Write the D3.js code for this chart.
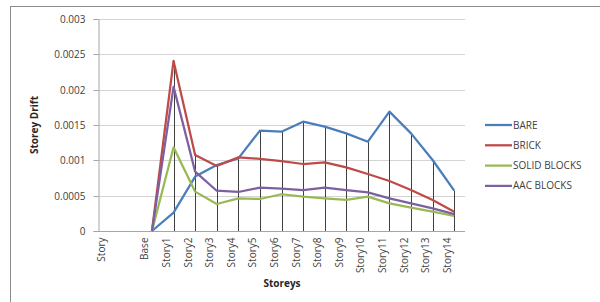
<!DOCTYPE html>
<html><head><meta charset="utf-8">
<script src="https://cdn.jsdelivr.net/npm/d3@7"></script>
<style>body{margin:0;background:#fff}svg{display:block}text{font-family:"Open Sans","Noto Sans",sans-serif}</style>
</head><body><svg id="c" width="600" height="302"></svg>
<script>
const categories = ["Story","","Base","Story1","Story2","Story3","Story4","Story5","Story6","Story7","Story8","Story9","Story10","Story11","Story12","Story13","Story14"];
const bare   = [null,null,0,0.000259,0.00077,0.000934,0.001028,0.00142,0.001405,0.001547,0.001476,0.001382,0.001264,0.001689,0.001382,0.001005,0.00057];
const brick  = [null,null,0,0.002406,0.001075,0.00092,0.001042,0.00102,0.00099,0.000948,0.000972,0.000901,0.000807,0.000708,0.00058,0.000439,0.000273];
const solid  = [null,null,0,0.001184,0.000557,0.000382,0.000462,0.000453,0.00052,0.000486,0.000462,0.000439,0.000486,0.00039,0.00033,0.000273,0.000212];
const aac    = [null,null,0,0.00204,0.00084,0.00057,0.000552,0.000613,0.000599,0.00058,0.000613,0.00058,0.000547,0.000462,0.00039,0.000321,0.00024];
const yTicks = [0,0.0005,0.001,0.0015,0.002,0.0025,0.003];
const yTickLabels = ["0","0.0005","0.001","0.0015","0.002","0.0025","0.003"];
const seriesNames = ["BARE","BRICK","SOLID BLOCKS","AAC BLOCKS"];
const seriesColors = ["#4a7ebb","#be4b48","#98b954","#7d60a0"];
const seriesData = [bare,brick,solid,aac];

const svg = d3.select("#c");
// outer chart border
svg.append("rect").attr("x",10.5).attr("y",6.5).attr("width",620).attr("height",320)
  .attr("fill","none").attr("stroke","#8c8c8c").attr("stroke-width",1);

const L=98, R=465, T=19, B=231;
const x = d3.scaleBand().domain(d3.range(categories.length)).range([L,R]);
const xc = i => x(i)+x.bandwidth()/2;
const y = d3.scaleLinear().domain([0,0.003]).range([B,T]);

// gridlines
svg.append("g").selectAll("line").data(yTicks.slice(1)).join("line")
  .attr("x1",L).attr("x2",R).attr("y1",d=>Math.round(y(d))+0.5).attr("y2",d=>Math.round(y(d))+0.5)
  .attr("stroke","#d4d4d4").attr("stroke-width",1);

// y axis
const yAxis = d3.axisLeft(y).tickValues(yTicks).tickFormat((d,i)=>yTickLabels[i]).tickSize(5).tickPadding(8);
const gy = svg.append("g").attr("transform",`translate(${L+0.5},0)`).call(yAxis);
gy.select(".domain").attr("stroke","#a6a6a6");
gy.selectAll(".tick line").attr("stroke","#a6a6a6");
gy.selectAll(".tick text").attr("font-size",10).attr("fill","#404040");
gy.selectAll(".tick").attr("transform",d=>`translate(0,${Math.round(y(d))+0.5})`);

// x axis
const xAxis = d3.axisBottom(x).tickFormat(i=>categories[i]).tickSize(0).tickPadding(6);
const gx = svg.append("g").attr("transform",`translate(0,${B+0.5})`).call(xAxis);
gx.select(".domain").attr("stroke","#a6a6a6").attr("d",`M${L},0H${R}`);
gx.selectAll(".tick text").attr("font-size",10).attr("fill","#404040")
  .attr("transform","rotate(-90)").attr("text-anchor","end").attr("dx","-6").attr("dy","-0.35em").attr("y",0).attr("x",0);

// drop lines
const drops = d3.range(categories.length).filter(i=>bare[i]!=null && d3.max(seriesData,s=>s[i])>0);
svg.append("g").selectAll("line").data(drops).join("line")
  .attr("x1",i=>Math.round(xc(i))+0.5).attr("x2",i=>Math.round(xc(i))+0.5)
  .attr("y1",i=>y(d3.max(seriesData,s=>s[i]))).attr("y2",B)
  .attr("stroke","#404040").attr("stroke-width",1);

// series lines
const line = d3.line().defined(d=>d!=null).x((d,i)=>xc(i)).y(d=>y(d));
seriesData.forEach((s,k)=>{
  svg.append("path").datum(s).attr("d",line).attr("fill","none")
    .attr("stroke",seriesColors[k]).attr("stroke-width",2.25).attr("stroke-linejoin","round");
});

// axis titles
svg.append("text").attr("transform",`translate(38,${(T+B)/2}) rotate(-90)`).attr("text-anchor","middle")
  .attr("font-size",10).attr("font-weight","bold").attr("fill","#262626").text("Storey Drift");
svg.append("text").attr("x",282).attr("y",287).attr("text-anchor","middle")
  .attr("font-size",10).attr("font-weight","bold").attr("fill","#262626").text("Storeys");

// legend
const lg = svg.append("g");
seriesNames.forEach((n,k)=>{
  const yy = 125 + k*20.3;
  lg.append("line").attr("x1",485).attr("x2",512).attr("y1",yy).attr("y2",yy)
    .attr("stroke",seriesColors[k]).attr("stroke-width",2.25);
  lg.append("text").attr("x",513).attr("y",yy+3.5).attr("font-size",10).attr("fill","#404040").text(n);
});
</script></body></html>
